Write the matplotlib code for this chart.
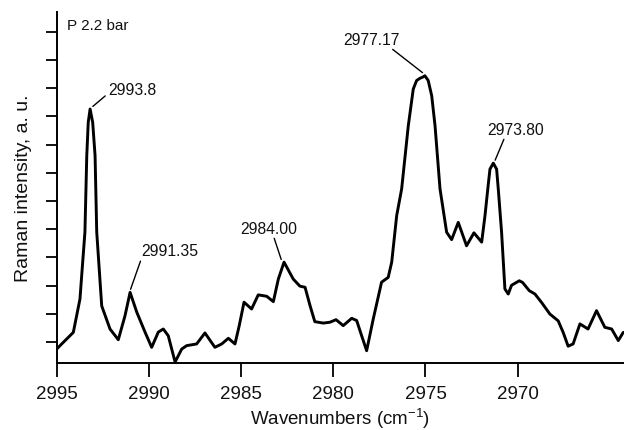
import matplotlib
matplotlib.use('Agg')
import matplotlib.pyplot as plt

# --- Data (wavenumber, intensity in tick units) ---
wavenumber = [2995.00, 2994.73, 2994.10, 2993.74, 2993.47, 2993.37, 2993.29, 2993.19,
              2993.05, 2992.92, 2992.83, 2992.56, 2992.11, 2991.66, 2991.30, 2991.02,
              2990.66, 2990.21, 2989.85, 2989.49, 2989.22, 2988.95, 2988.58, 2988.22,
              2987.95, 2987.41, 2986.96, 2986.42, 2986.05, 2985.69, 2985.33, 2985.10,
              2984.84, 2984.43, 2984.07, 2983.61, 2983.25, 2982.98, 2982.67, 2982.17,
              2981.81, 2981.53, 2981.26, 2981.00, 2980.54, 2980.18, 2979.85, 2979.46,
              2979.00, 2978.73, 2978.46, 2978.19, 2977.83, 2977.38, 2977.02, 2976.83,
              2976.56, 2976.29, 2975.93, 2975.66, 2975.48, 2975.30, 2975.15, 2975.03,
              2974.85, 2974.66, 2974.48, 2974.21, 2973.85, 2973.58, 2973.22, 2972.77,
              2972.37, 2971.95, 2971.77, 2971.59, 2971.50, 2971.32, 2971.14, 2971.05,
              2970.87, 2970.69, 2970.51, 2970.33, 2969.91, 2969.73, 2969.37, 2969.06,
              2968.70, 2968.25, 2967.80, 2967.53, 2967.26, 2966.99, 2966.62, 2966.18,
              2965.72, 2965.27, 2964.90, 2964.54, 2964.27]
intensity = [-0.25, -0.07, 0.34, 1.52, 3.90, 6.61, 7.79, 8.26,
             7.79, 6.61, 3.90, 1.28, 0.46, 0.08, 0.92, 1.76,
             1.06, 0.35, -0.19, 0.35, 0.46, 0.22, -0.71, -0.25,
             -0.13, -0.07, 0.32, -0.19, -0.07, 0.13, -0.07, 0.58,
             1.41, 1.17, 1.67, 1.62, 1.43, 2.23, 2.83, 2.23,
             1.98, 1.94, 1.29, 0.72, 0.67, 0.70, 0.79, 0.58,
             0.84, 0.76, 0.22, -0.31, 0.82, 2.12, 2.29, 2.83,
             4.48, 5.43, 7.67, 8.97, 9.27, 9.35, 9.39, 9.44,
             9.27, 8.73, 7.67, 5.43, 3.89, 3.63, 4.24, 3.41,
             3.87, 3.54, 4.48, 5.60, 6.13, 6.34, 6.13, 5.43,
             3.89, 1.88, 1.70, 2.01, 2.17, 2.11, 1.82, 1.70,
             1.40, 0.99, 0.75, 0.34, -0.15, -0.07, 0.64, 0.46,
             1.11, 0.52, 0.46, 0.05, 0.34]

# peak labels: text, peak point, text anchor, where the leader meets the text
peak_labels = ['2993.8', '2991.35', '2984.00', '2977.17', '2973.80']
peak_x = [2993.10, 2991.02, 2982.80, 2975.10, 2971.25]
peak_y = [8.32, 1.82, 2.88, 9.52, 6.40]
label_x = [2992.22, 2990.39, 2985.06, 2979.47, 2971.65]
label_y = [8.94, 3.23, 4.04, 10.74, 7.55]
leader_rel = [(0.0, 0.25), (0.0, 0.05), (0.58, 0.05), (0.8, 0.05), (0.32, 0.05)]

x_ticks = [2995, 2990, 2985, 2980, 2975, 2970]
y_ticks = list(range(12))

plt.rcParams['font.family'] = ['Liberation Sans', 'DejaVu Sans']
plt.rcParams['mathtext.default'] = 'regular'

fig = plt.figure(figsize=(6.24, 4.31), dpi=100)
ax = fig.add_axes([0.0909, 0.1555, 0.9091, 0.8143])

ax.plot(wavenumber, intensity, color='black', lw=2.1,
        solid_joinstyle='round', solid_capstyle='round')

for txt, px, py, tx, ty, rel in zip(peak_labels, peak_x, peak_y, label_x, label_y, leader_rel):
    ax.annotate(txt, xy=(px, py), xytext=(tx, ty), ha='left', va='center',
                fontsize=11.3, color='#111111',
                arrowprops=dict(arrowstyle='-', color='black', lw=1.0,
                                shrinkA=0, shrinkB=1, relpos=rel))

ax.text(2994.44, 11.24, 'P 2.2 bar', ha='left', va='center', fontsize=11, color='#111111')

ax.set_xlim(2995.0, 2964.23)
ax.set_ylim(-0.745, 11.70)
ax.set_xticks(x_ticks)
ax.set_yticks(y_ticks)
ax.set_yticklabels([])
ax.tick_params(axis='x', length=10, width=1.4, labelsize=13.5, pad=6, colors='#111111')
ax.tick_params(axis='y', length=8, width=1.4, colors='#111111')

ax.spines['top'].set_visible(False)
ax.spines['right'].set_visible(False)
ax.spines['left'].set_linewidth(1.4)
ax.spines['bottom'].set_linewidth(1.4)

ax.set_xlabel('Wavenumbers (cm$^{-1}$)', fontsize=13.5, labelpad=3, color='#111111')
ax.set_ylabel('Raman intensity, a. u.', fontsize=14, labelpad=6, color='#111111')

fig.savefig('out.png', dpi=100)
